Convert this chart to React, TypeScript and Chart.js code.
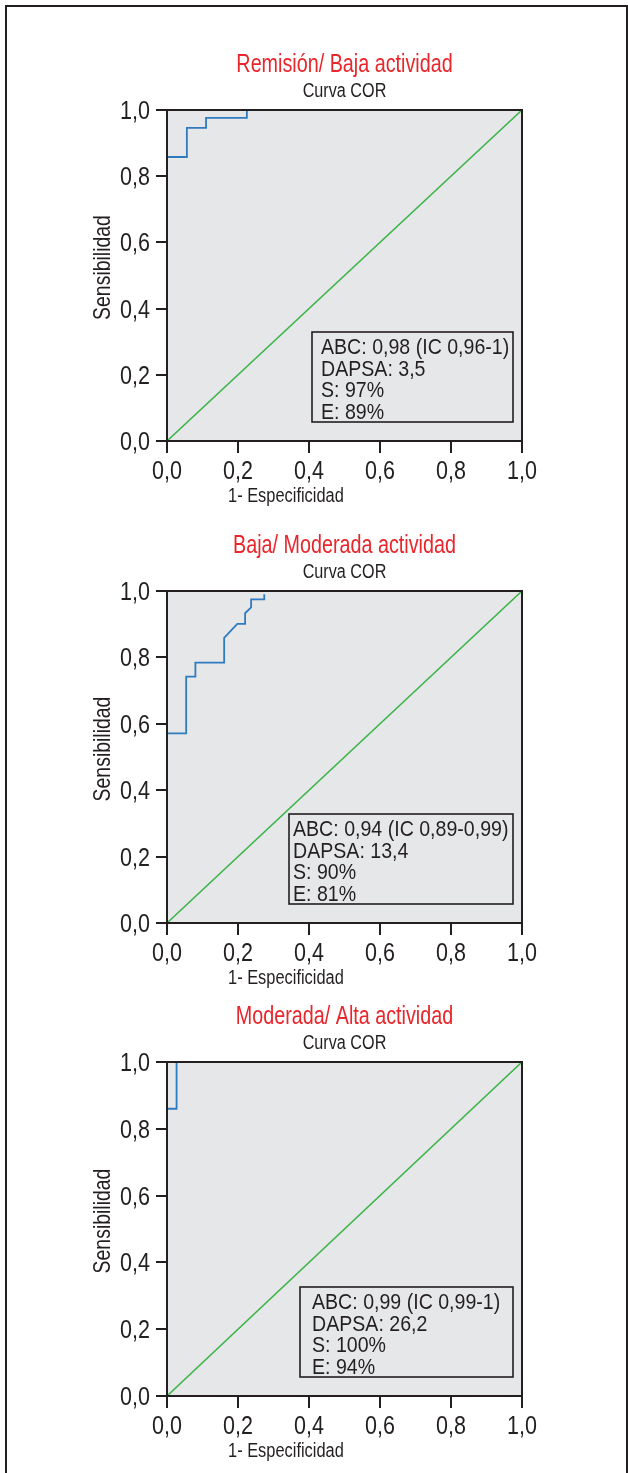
import React, { useEffect, useRef } from "react";
import { Chart, registerables } from "chart.js";

Chart.register(...registerables);

// ---------- data ----------
const tickValues = [0, 0.2, 0.4, 0.6, 0.8, 1.0];
const diagonalX = [0, 1];
const diagonalY = [0, 1];

const panelTitles = [
  "Remisión/ Baja actividad",
  "Baja/ Moderada actividad",
  "Moderada/ Alta actividad",
];
const subtitleText = "Curva COR";
const xAxisTitle = "1- Especificidad";
const yAxisTitle = "Sensibilidad";

const roc1X = [0, 0.056, 0.056, 0.11, 0.11, 0.225, 0.225];
const roc1Y = [0.858, 0.858, 0.946, 0.946, 0.976, 0.976, 1.0];

const roc2X = [0, 0.054, 0.054, 0.08, 0.08, 0.161, 0.161, 0.198, 0.22, 0.22, 0.237, 0.237, 0.274, 0.274];
const roc2Y = [0.571, 0.571, 0.742, 0.742, 0.784, 0.784, 0.859, 0.901, 0.901, 0.933, 0.951, 0.975, 0.975, 0.99];

const roc3X = [0, 0.027, 0.027];
const roc3Y = [0.86, 0.86, 1.0];

const stats1 = ["ABC: 0,98 (IC 0,96-1)", "DAPSA: 3,5", "S: 97%", "E: 89%"];
const stats2 = ["ABC: 0,94 (IC 0,89-0,99)", "DAPSA: 13,4", "S: 90%", "E: 81%"];
const stats3 = ["ABC: 0,99 (IC 0,99-1)", "DAPSA: 26,2", "S: 100%", "E: 94%"];

// ---------- layout / style ----------
const FONT = "'Liberation Sans', Arial, sans-serif";
const CAP = 0.716;
const INK = "#231f20";
const RED = "#e8262b";
const BLUE = "#2f7bbf";
const GREEN = "#3db54a";
const PLOT_BG = "#e6e7e8";

const CANVAS_W = 628;
const CANVAS_H = 520;
const PLOT_TOP = 110;
const PLOT_LEFT = 167;
const PLOT_RIGHT = 522;
const X_AXIS_H = 80;
const Y_AXIS_W = 60;

const panels = [
  { top: 0, plotH: 331, title: panelTitles[0], rocX: roc1X, rocY: roc1Y, stats: stats1, boxLeft: 312, textPad: 9 },
  { top: 481, plotH: 332, title: panelTitles[1], rocX: roc2X, rocY: roc2Y, stats: stats2, boxLeft: 289, textPad: 4 },
  { top: 952, plotH: 334, title: panelTitles[2], rocX: roc3X, rocY: roc3Y, stats: stats3, boxLeft: 300, textPad: 12 },
];

const fmt = (v: number) => v.toFixed(1).replace(".", ",");
const toPoints = (xs: number[], ys: number[]) => xs.map((x, i) => ({ x, y: ys[i] }));

// draw condensed text; yc is the vertical centre of the capitals
function drawText(
  ctx: CanvasRenderingContext2D,
  text: string,
  x: number,
  yc: number,
  size: number,
  color: string,
  align: CanvasTextAlign,
  sx: number
) {
  ctx.save();
  ctx.font = `${size}px ${FONT}`;
  ctx.fillStyle = color;
  ctx.textBaseline = "alphabetic";
  ctx.textAlign = align;
  ctx.translate(x, yc + (CAP / 2) * size);
  ctx.scale(sx, 1);
  ctx.fillText(text, 0, 0);
  ctx.restore();
}

function Panel({ cfg }: { cfg: (typeof panels)[number] }) {
  const ref = useRef<HTMLCanvasElement | null>(null);
  useEffect(() => {
    const canvas = ref.current;
    if (!canvas) return;
    const decor = {
      id: "decor",
      beforeDatasetsDraw(chart: any) {
        const { ctx, chartArea: a } = chart;
        ctx.save();
        ctx.fillStyle = PLOT_BG;
        ctx.fillRect(a.left, a.top, a.right - a.left, a.bottom - a.top);
        ctx.restore();
      },
      afterDatasetsDraw(chart: any) {
        const { ctx, chartArea: a } = chart;
        const xs = chart.scales.x;
        const ys = chart.scales.y;
        ctx.save();
        ctx.strokeStyle = INK;
        ctx.lineWidth = 2;
        ctx.strokeRect(a.left, a.top, a.right - a.left, a.bottom - a.top);
        ctx.restore();

        // titles
        const cx = (a.left + a.right) / 2;
        drawText(ctx, cfg.title, cx, a.top - 47, 25, RED, "center", 0.79);
        drawText(ctx, subtitleText, cx, a.top - 20, 19.5, INK, "center", 0.83);

        // tick labels
        tickValues.forEach((v) => {
          drawText(ctx, fmt(v), xs.getPixelForValue(v), a.bottom + 29, 25, INK, "center", 0.86);
          drawText(ctx, fmt(v), a.left - 17, ys.getPixelForValue(v), 25, INK, "right", 0.86);
        });

        // axis titles
        drawText(ctx, xAxisTitle, xs.getPixelForValue(0.335), a.bottom + 54, 20, INK, "center", 0.82);
        ctx.save();
        ctx.font = `24px ${FONT}`;
        ctx.fillStyle = INK;
        ctx.textAlign = "center";
        ctx.textBaseline = "alphabetic";
        ctx.translate(110, (a.top + a.bottom) / 2 - 8);
        ctx.rotate(-Math.PI / 2);
        ctx.scale(0.81, 1);
        ctx.fillText(yAxisTitle, 0, 0);
        ctx.restore();

        // stats box
        const boxRight = a.right - 9;
        const boxBottom = a.bottom - 19;
        const boxH = 90;
        ctx.save();
        ctx.lineWidth = 1.6;
        ctx.strokeStyle = INK;
        ctx.strokeRect(cfg.boxLeft, boxBottom - boxH, boxRight - cfg.boxLeft, boxH);
        ctx.restore();
        cfg.stats.forEach((s, i) => {
          drawText(ctx, s, cfg.boxLeft + cfg.textPad, boxBottom - boxH + 14.5 + i * 21.4, 22, INK, "left", 0.89);
        });
      },
    };
    const chart = new Chart(canvas, {
      type: "scatter",
      data: {
        datasets: [
          {
            data: toPoints(diagonalX, diagonalY),
            showLine: true,
            borderColor: GREEN,
            borderWidth: 1.6,
            pointRadius: 0,
          },
          {
            data: toPoints(cfg.rocX, cfg.rocY),
            showLine: true,
            borderColor: BLUE,
            borderWidth: 1.8,
            pointRadius: 0,
          },
        ],
      },
      options: {
        animation: false,
        responsive: false,
        events: [],
        layout: {
          padding: {
            left: PLOT_LEFT - Y_AXIS_W,
            right: CANVAS_W - PLOT_RIGHT,
            top: PLOT_TOP,
            bottom: CANVAS_H - PLOT_TOP - cfg.plotH - X_AXIS_H,
          },
        },
        plugins: { legend: { display: false }, tooltip: { enabled: false }, title: { display: false } },
        scales: {
          x: {
            type: "linear",
            min: 0,
            max: 1,
            afterBuildTicks: (s: any) => {
              s.ticks = tickValues.map((v) => ({ value: v }));
            },
            afterFit: (s: any) => {
              s.height = X_AXIS_H;
            },
            border: { display: false },
            grid: { drawOnChartArea: false, drawTicks: true, tickLength: 12, color: INK, lineWidth: 2 },
            ticks: { display: false },
          },
          y: {
            type: "linear",
            min: 0,
            max: 1,
            afterBuildTicks: (s: any) => {
              s.ticks = tickValues.map((v) => ({ value: v }));
            },
            afterFit: (s: any) => {
              s.width = Y_AXIS_W;
            },
            border: { display: false },
            grid: { drawOnChartArea: false, drawTicks: true, tickLength: 11, color: INK, lineWidth: 2 },
            ticks: { display: false },
          },
        },
      },
      plugins: [decor],
    } as any);
    return () => chart.destroy();
  }, [cfg]);
  return (
    <canvas
      ref={ref}
      width={CANVAS_W}
      height={CANVAS_H}
      style={{ position: "absolute", left: 0, top: cfg.top, width: CANVAS_W, height: CANVAS_H }}
    />
  );
}

export default function App() {
  return (
    <div style={{ position: "absolute", left: 0, top: 0, width: 628, height: 1473, background: "#fff", overflow: "hidden" }}>
      <div
        style={{
          position: "absolute",
          left: 5,
          top: 5,
          width: 619,
          height: 1500,
          border: `2px solid ${INK}`,
          borderBottom: "none",
        }}
      />
      {panels.map((p, i) => (
        <Panel key={i} cfg={p} />
      ))}
    </div>
  );
}
